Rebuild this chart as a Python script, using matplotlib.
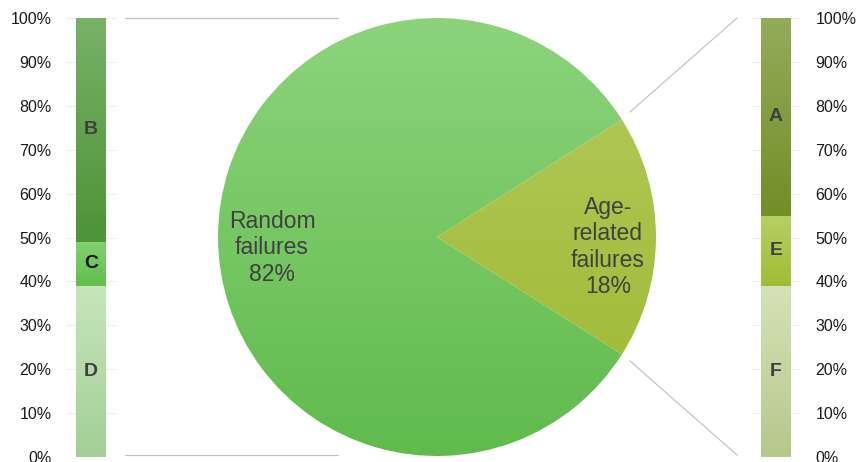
import numpy as np
import matplotlib
matplotlib.use("Agg")
import matplotlib.pyplot as plt
from matplotlib.colors import LinearSegmentedColormap

plt.rcParams['font.family'] = ['Liberation Sans', 'DejaVu Sans']

# data
pie_labels = ['Random\nfailures\n82%', 'Age-\nrelated\nfailures\n18%']
pie_values = [82, 18]
pie_colors = [('#8cd47c', '#60bb4c'), ('#b6ca5e', '#9cb830')]

left_labels = ['D', 'C', 'B']
left_values = [39, 10, 51]
left_colors = [('#c6e6ba', '#a3cf96'), ('#82d172', '#62bd4e'), ('#78b268', '#4d9337')]
left_text = ['#404040', '#111111', '#404040']

right_labels = ['F', 'E', 'A']
right_values = [39, 16, 45]
right_colors = [('#d6e1b7', '#b6c88c'), ('#b7d064', '#9fbd34'), ('#94ac5a', '#718e27')]
right_text = ['#404040', '#404040', '#404040']

pct_ticks = np.arange(0, 101, 10)
pct_labels = ['{}%'.format(t) for t in pct_ticks]

W, H = 859, 462
fig = plt.figure(figsize=(W / 100, H / 100), dpi=100)


def grad(ax, patch, top, bot, extent):
    cmap = LinearSegmentedColormap.from_list('g', [bot, top])
    arr = np.linspace(0, 1, 256).reshape(-1, 1)
    im = ax.imshow(arr, cmap=cmap, origin='lower', extent=extent,
                   aspect='auto', interpolation='bilinear', zorder=patch.get_zorder())
    im.set_clip_path(patch)


# pie in pixel coordinates
ax = fig.add_axes([0, 0, 1, 1])
cx, cy, r = 437, H - 237, 219
wedges, _ = ax.pie(pie_values, startangle=32.4, center=(cx, cy), radius=r,
                   wedgeprops=dict(linewidth=0))
for w, (top, bot) in zip(wedges, pie_colors):
    w.set_facecolor('none')
    grad(ax, w, top, bot, (cx - r, cx + r, cy - r, cy + r))
ax.set_xlim(0, W)
ax.set_ylim(0, H)
ax.set_aspect('auto')
ax.axis('off')

ax.text(272, H - 248, pie_labels[0], ha='center', va='center', fontsize=16.5,
        color='#404040', linespacing=1.2)
ax.text(608, H - 247, pie_labels[1], ha='center', va='center', fontsize=16.5,
        color='#404040', linespacing=1.2)

# connector lines
lc = '#c4c4c4'
ax.plot([125, 338], [H - 18, H - 18], color=lc, lw=0.9)
ax.plot([125, 338], [H - 455, H - 455], color=lc, lw=0.9)
ax.plot([630, 737], [H - 112, H - 18], color=lc, lw=0.9)
ax.plot([630, 737], [H - 361, H - 455], color=lc, lw=0.9)


def bar_axis(x0, labels, values, colors, tcolors, right):
    b = fig.add_axes([x0 / W, (H - 457) / H, 50 / W, 439 / H])
    bottom = 0
    for lab, v, (top, bot), tc in zip(labels, values, colors, tcolors):
        rect = b.bar(0.5, v, bottom=bottom, width=0.6, color='none', linewidth=0,
                     zorder=2)[0]
        grad(b, rect, top, bot, (0.2, 0.8, bottom, bottom + v))
        b.text(0.5, bottom + v / 2, lab, ha='center', va='center', fontsize=14,
               fontweight='bold', color=tc, zorder=4)
        bottom += v
    b.set_xlim(0, 1)
    b.set_ylim(0, 100)
    b.set_yticks(pct_ticks)
    b.set_yticklabels(pct_labels)
    b.set_xticks([])
    b.tick_params(axis='y', length=0, pad=10.5, labelsize=11.5, labelcolor='#1a1a1a')
    if right:
        b.yaxis.tick_right()
    b.grid(axis='y', color='#ededed', lw=0.8, zorder=0)
    b.set_axisbelow(True)
    for s in b.spines.values():
        s.set_visible(False)
    b.patch.set_alpha(0)
    return b


bar_axis(66, left_labels, left_values, left_colors, left_text, False)
bar_axis(751, right_labels, right_values, right_colors, right_text, True)

fig.savefig('out.png', dpi=100)
